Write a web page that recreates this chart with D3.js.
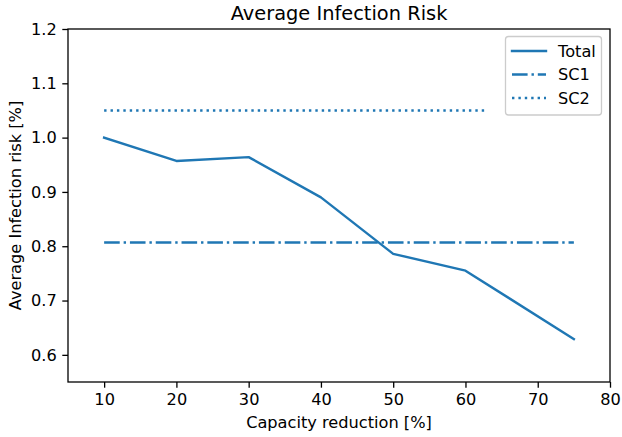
<!DOCTYPE html>
<html><head><meta charset="utf-8">
<script src="https://cdn.jsdelivr.net/npm/d3@7"></script>
<style>body{margin:0;background:#fff}svg{display:block}text{font-family:"DejaVu Sans",sans-serif;fill:#000}</style>
</head><body><svg id="c" width="622" height="437"></svg>
<script>
const totalX = [10, 20, 30, 40, 50, 60, 75];
const totalY = [1.0, 0.957, 0.964, 0.890, 0.786, 0.755, 0.629];
const sc1X = [10, 75];
const sc1Y = [0.807, 0.807];
const sc2X = [10, 63];
const sc2Y = [1.05, 1.05];
const xTicks = [10, 20, 30, 40, 50, 60, 70, 80];
const yTicks = [0.6, 0.7, 0.8, 0.9, 1.0, 1.1, 1.2];
const seriesNames = ["Total", "SC1", "SC2"];

const svg = d3.select("#c");
const m = {l: 68, r: 610, t: 29, b: 382};
const x = d3.scaleLinear().domain([5, 80]).range([m.l, m.r]);
const y = d3.scaleLinear().domain([0.55, 1.2]).range([m.b, m.t]);
const color = "#1f77b4";
const lw = 2.4;
const dashes = ["none", "15.6,3.9,2.4,3.9", "2.4,4"];
const fs = 16.2;

const series = [
  {x: totalX, y: totalY}, {x: sc1X, y: sc1Y}, {x: sc2X, y: sc2Y}
];
const line = d3.line().x(d => x(d[0])).y(d => y(d[1]));
series.forEach((s, i) => {
  svg.append("path").datum(d3.zip(s.x, s.y)).attr("d", line)
    .attr("fill", "none").attr("stroke", color).attr("stroke-width", lw)
    .attr("stroke-dasharray", dashes[i]).attr("stroke-linecap", i === 0 ? "square" : "butt")
    .attr("stroke-linejoin", "round");
});

const xa = svg.append("g").attr("transform", `translate(0,${m.b})`)
  .call(d3.axisBottom(x).tickValues(xTicks).tickFormat(d3.format("d")).tickSize(5.7).tickPadding(5.5));
const ya = svg.append("g").attr("transform", `translate(${m.l},0)`)
  .call(d3.axisLeft(y).tickValues(yTicks).tickFormat(d3.format(".1f")).tickSize(5.7).tickPadding(5.5));
[xa, ya].forEach(a => {
  a.select(".domain").remove();
  a.selectAll("line").attr("stroke", "#000").attr("stroke-width", 1.3);
  a.selectAll("text").attr("font-size", fs).attr("font-family", "DejaVu Sans").attr("fill", "#000");
});
svg.append("rect").attr("x", m.l).attr("y", m.t).attr("width", m.r - m.l).attr("height", m.b - m.t)
  .attr("fill", "none").attr("stroke", "#000").attr("stroke-width", 1.3);

svg.append("text").attr("x", (m.l + m.r) / 2).attr("y", 20).attr("text-anchor", "middle")
  .attr("font-size", 19.4).text("Average Infection Risk");
svg.append("text").attr("x", (m.l + m.r) / 2).attr("y", 428).attr("text-anchor", "middle")
  .attr("font-size", fs).text("Capacity reduction [%]");
svg.append("text").attr("transform", `translate(21,${(m.t + m.b) / 2}) rotate(-90)`).attr("text-anchor", "middle")
  .attr("font-size", fs).text("Average Infection risk [%]");

const lg = svg.append("g");
lg.append("rect").attr("x", 505.5).attr("y", 36.5).attr("width", 96).attr("height", 78.5)
  .attr("rx", 3).attr("fill", "#fff").attr("fill-opacity", 0.8).attr("stroke", "#ccc").attr("stroke-width", 1.3);
seriesNames.forEach((n, i) => {
  const yy = 51 + i * 23.5;
  lg.append("line").attr("x1", 512).attr("x2", 546).attr("y1", yy).attr("y2", yy)
    .attr("stroke", color).attr("stroke-width", lw).attr("stroke-dasharray", dashes[i])
    .attr("stroke-linecap", i === 0 ? "square" : "butt");
  lg.append("text").attr("x", 558).attr("y", yy).attr("dy", "0.36em").attr("font-size", fs).text(n);
});
</script></body></html>
